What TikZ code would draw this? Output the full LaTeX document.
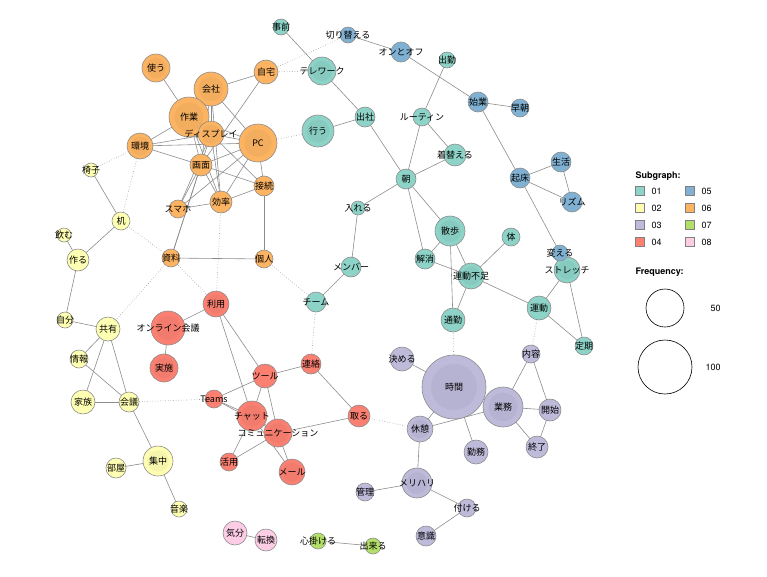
\documentclass[tikz,border=0pt]{standalone}
\usepackage{fontspec}
\setmainfont{TeX Gyre Heros}
\newfontfamily\jp{Noto Sans CJK JP}
\pgfdeclarelayer{bg}\pgfsetlayers{bg,main}
\definecolor{c1}{HTML}{8DD3C7}\definecolor{c2}{HTML}{FFFFB3}
\definecolor{c3}{HTML}{BEBADA}\definecolor{c4}{HTML}{FB8072}
\definecolor{c5}{HTML}{80B1D3}\definecolor{c6}{HTML}{FDB462}
\definecolor{c7}{HTML}{B3DE69}\definecolor{c8}{HTML}{FCCDE5}
\tikzset{nd/.style={circle,draw=black!45,line width=0.6pt,inner sep=0pt,font=\jp\fontsize{9}{10}\selectfont},
 e/.style={draw=black!45,line width=0.6pt},
 d/.style={draw=black!40,line width=0.6pt,dotted},
 lg/.style={font=\fontsize{9}{10}\selectfont,anchor=west},
 sq/.style={draw=black!50,line width=0.8pt,minimum size=9pt,inner sep=0pt}}
\newcommand\N[6]{\node[nd,fill=#5,minimum size=#4*2pt] (#1) at (#2,#3) {};
 \ifnum#4>12 \fill[#5!85!black,opacity=0.25] (#2,#3) circle ({#4*0.72pt});\fi
 \node[font=\jp\fontsize{9}{10}\selectfont,inner sep=0pt] at (#2,#3) {#6};}
\begin{document}
\begin{tikzpicture}[x=1pt,y=-1pt]
\useasboundingbox (0,0) rectangle (767,576);
% orange
\N{tsukau}{156}{68}{14}{c6}{使う}
\N{kaisha}{211}{89}{17}{c6}{会社}
\N{jitaku}{266}{72}{12}{c6}{自宅}
\N{sagyo}{189}{117}{20}{c6}{作業}
\N{disp}{211}{134}{13}{c6}{ディスプレイ}
\N{pc}{258}{143}{19}{c6}{PC}
\N{kankyo}{140}{146}{13}{c6}{環境}
\N{gamen}{201}{165}{11}{c6}{画面}
\N{setsuzoku}{264}{186}{10}{c6}{接続}
\N{koritsu}{221}{202}{11}{c6}{効率}
\N{sumaho}{178}{209}{9}{c6}{スマホ}
\N{shiryo}{171}{258}{9}{c6}{資料}
\N{kojin}{264}{259}{9}{c6}{個人}
% yellow
\N{isu}{91}{170}{7}{c2}{椅子}
\N{tsukue}{121}{221}{9}{c2}{机}
\N{nomu}{64}{235}{7}{c2}{飲む}
\N{tsukuru}{78}{260}{11}{c2}{作る}
\N{jibun}{65}{320}{8}{c2}{自分}
\N{kyoyu}{108}{329}{12}{c2}{共有}
\N{joho}{79}{359}{9}{c2}{情報}
\N{kazoku}{83}{402}{12}{c2}{家族}
\N{kaigi}{129}{402}{10}{c2}{会議}
\N{shuchu}{158}{461}{15}{c2}{集中}
\N{heya}{116}{468}{10}{c2}{部屋}
\N{ongaku}{179}{509}{8}{c2}{音楽}
% red
\N{riyo}{216}{304}{13}{c4}{利用}
\N{online}{168}{328}{17}{c4}{オンライン会議}
\N{jisshi}{164}{368}{14}{c4}{実施}
\N{teams}{214}{399}{9}{c4}{Teams}
\N{tool}{265}{376}{12}{c4}{ツール}
\N{renraku}{311}{364}{10}{c4}{連絡}
\N{chat}{252}{416}{15}{c4}{チャット}
\N{comm}{278}{433}{14}{c4}{コミュニケーション}
\N{toru}{359}{416}{11}{c4}{取る}
\N{katsuyo}{229}{462}{9}{c4}{活用}
\N{mail}{292}{472}{13}{c4}{メール}
% teal
\N{jizen}{281}{27}{8}{c1}{事前}
\N{tele}{322}{71}{14}{c1}{テレワーク}
\N{okonau}{318}{131}{16}{c1}{行う}
\N{shussha}{365}{117}{10}{c1}{出社}
\N{routine}{422}{117}{9}{c1}{ルーティン}
\N{shukkin}{447}{60}{8}{c1}{出勤}
\N{kigae}{455}{155}{11}{c1}{着替える}
\N{asa}{406}{179}{10}{c1}{朝}
\N{ireru}{358}{208}{7}{c1}{入れる}
\N{member}{351}{267}{10}{c1}{メンバー}
\N{team}{316}{302}{10}{c1}{チーム}
\N{sanpo}{450}{231}{15}{c1}{散歩}
\N{karada}{511}{237}{9}{c1}{体}
\N{kaisho}{425}{259}{10}{c1}{解消}
\N{fusoku}{471}{276}{13}{c1}{運動不足}
\N{tsukin}{453}{320}{12}{c1}{通勤}
\N{undo}{539}{308}{12}{c1}{運動}
\N{stretch}{567}{270}{13}{c1}{}
\N{teiki}{584}{346}{9}{c1}{定期}
% blue
\N{kirikae}{348}{35}{8}{c5}{切り替える}
\N{onoff}{401}{52}{10}{c5}{オンとオフ}
\N{shigyo}{478}{102}{10}{c5}{始業}
\N{socho}{520}{108}{9}{c5}{早朝}
\N{kisho}{520}{178}{10}{c5}{起床}
\N{seikatsu}{561}{162}{10}{c5}{生活}
\N{rhythm}{572}{202}{10}{c5}{リズム}
\N{kaeru}{560}{253}{8}{c5}{変える}
\node[font=\jp\fontsize{9}{10}\selectfont,inner sep=0pt] at (567,270) {ストレッチ};
% purple
\N{jikan}{454}{387}{32}{c3}{時間}
\N{gyomu}{503}{407}{20}{c3}{業務}
\N{kaishi}{550}{410}{11}{c3}{開始}
\N{naiyo}{531}{354}{9}{c3}{内容}
\N{shuryo}{537}{447}{11}{c3}{終了}
\N{kimeru}{402}{359}{12}{c3}{決める}
\N{kyukei}{420}{429}{13}{c3}{休憩}
\N{kinmu}{476}{452}{12}{c3}{勤務}
\N{meri}{417}{483}{15}{c3}{メリハリ}
\N{kanri}{365}{492}{9}{c3}{管理}
\N{tsukeru}{467}{508}{9}{c3}{付ける}
\N{ishiki}{426}{536}{10}{c3}{意識}
% green, pink
\N{kokoro}{318}{541}{8}{c7}{心掛ける}
\N{dekiru}{373}{546}{8}{c7}{出来る}
\N{kibun}{235}{533}{12}{c8}{気分}
\N{tenkan}{266}{540}{11}{c8}{転換}
\begin{pgfonlayer}{bg}
\foreach \a/\b in {tsukau/sagyo,kaisha/jitaku,kaisha/sagyo,kaisha/disp,kaisha/pc,kaisha/gamen,kaisha/koritsu,
 sagyo/kankyo,sagyo/disp,sagyo/gamen,sagyo/pc,sagyo/koritsu,jitaku/gamen,kankyo/pc,kankyo/gamen,kankyo/disp,
 disp/pc,disp/setsuzoku,disp/koritsu,disp/sumaho,disp/shiryo,gamen/pc,gamen/setsuzoku,gamen/koritsu,gamen/sumaho,
 gamen/shiryo,pc/setsuzoku,pc/koritsu,pc/sumaho,setsuzoku/koritsu,setsuzoku/kojin,sumaho/koritsu,shiryo/kojin,
 isu/tsukue,tsukue/tsukuru,nomu/tsukuru,tsukuru/jibun,jibun/kyoyu,kyoyu/joho,kyoyu/kazoku,kyoyu/kaigi,joho/kaigi,
 kazoku/kaigi,kaigi/shuchu,shuchu/heya,shuchu/ongaku,
 riyo/online,online/jisshi,riyo/tool,riyo/chat,teams/tool,teams/chat,teams/comm,tool/renraku,tool/chat,tool/comm,
 chat/comm,chat/katsuyo,comm/katsuyo,chat/mail,comm/mail,renraku/toru,comm/toru,
 jizen/tele,tele/shussha,okonau/shussha,shussha/asa,routine/shukkin,routine/asa,routine/kigae,asa/kigae,asa/ireru,
 ireru/member,member/team,asa/sanpo,asa/kaisho,sanpo/kaisho,sanpo/fusoku,sanpo/tsukin,kaisho/fusoku,fusoku/karada,
 fusoku/tsukin,fusoku/undo,undo/stretch,undo/teiki,stretch/teiki,
 kirikae/onoff,onoff/shigyo,shigyo/socho,shigyo/kisho,kisho/seikatsu,kisho/rhythm,seikatsu/rhythm,kisho/kaeru,
 kimeru/jikan,jikan/gyomu,jikan/kyukei,jikan/kinmu,gyomu/kyukei,gyomu/naiyo,gyomu/kaishi,gyomu/shuryo,naiyo/kaishi,
 kaishi/shuryo,kyukei/meri,meri/kanri,meri/tsukeru,tsukeru/ishiki,kokoro/dekiru,kibun/tenkan}
 \draw[e] (\a.center) -- (\b.center);
\foreach \a/\b in {kankyo/isu,kankyo/tsukue,tsukue/shiryo,shiryo/kyoyu,shiryo/riyo,koritsu/riyo,kojin/team,pc/okonau,
 jitaku/tele,jitaku/kirikae,kaigi/teams,renraku/team,toru/kyukei,tsukin/jikan,undo/naiyo}
 \draw[d] (\a.center) -- (\b.center);
\end{pgfonlayer}
% legend
\node[lg,font=\bfseries\fontsize{9}{10}\selectfont] at (632,176) {Subgraph:};
\foreach \c/\t/\y in {c1/01/191,c2/02/208,c3/03/225,c4/04/242}
 {\node[sq,fill=\c] (s\t) at (640,\y) {}; \node[lg] at (648,\y) {\t};}
\foreach \c/\t/\y in {c5/05/191,c6/06/208,c7/07/225,c8/08/242}
 {\node[sq,fill=\c] (s\t) at (690,\y) {}; \node[lg] at (698,\y) {\t};}
\node[lg,font=\bfseries\fontsize{9}{10}\selectfont] at (632,272) {Frequency:};
\node[circle,draw,line width=0.6pt,minimum size=38pt] (f50) at (665,308) {};
\node[lg] at (707,308) {50};
\node[circle,draw,line width=0.6pt,minimum size=54pt] (f100) at (665,367) {};
\node[lg] at (702,367) {100};
\end{tikzpicture}
\end{document}
